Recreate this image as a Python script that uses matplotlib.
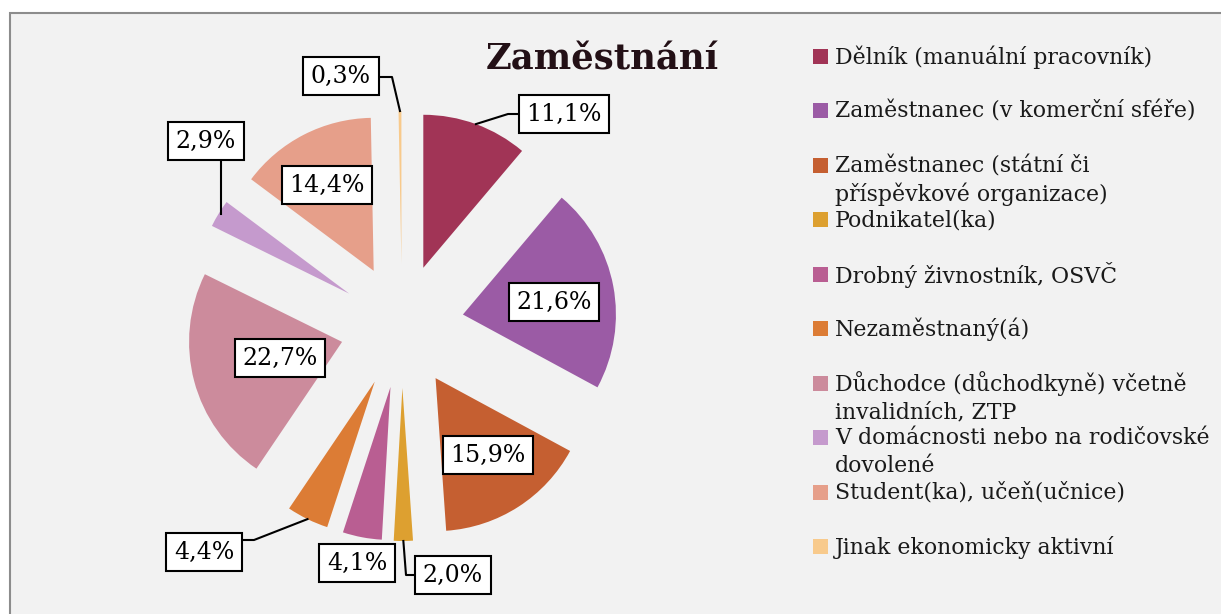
import matplotlib.pyplot as plt
import numpy as np
from matplotlib.patches import Rectangle

categories = ['Dělník (manuální pracovník)',
              'Zaměstnanec (v komerční sféře)',
              'Zaměstnanec (státní či\npříspěvkové organizace)',
              'Podnikatel(ka)',
              'Drobný živnostník, OSVČ',
              'Nezaměstnaný(á)',
              'Důchodce (důchodkyně) včetně\ninvalidních, ZTP',
              'V domácnosti nebo na rodičovské\ndovolené',
              'Student(ka), učeň(učnice)',
              'Jinak ekonomicky aktivní']
values = [11.1, 21.6, 15.9, 2.0, 4.1, 4.4, 22.7, 2.9, 14.4, 0.3]
labels = ['11,1%', '21,6%', '15,9%', '2,0%', '4,1%', '4,4%', '22,7%', '2,9%', '14,4%', '0,3%']
colors = ['#A13456', '#9B5BA5', '#C55F31', '#DDA030', '#B95E92',
          '#DC7C35', '#CC8B9C', '#C59ACD', '#E69F8A', '#F8CA8C']

W, H = 1221, 614
fig = plt.figure(figsize=(W / 100, H / 100), dpi=100)
ax = fig.add_axes([0, 0, 1, 1])
ax.set_xlim(0, W)
ax.set_ylim(0, H)
ax.axis('off')

# background + frame
ax.add_patch(Rectangle((10, -5), W, H - 13 + 5, fc='#F2F2F2', ec='#8C8C8C', lw=1.5, zorder=0))

serif = 'DejaVu Serif'

def Y(y):
    return H - y

# explode is in data units here (1 unit = 1 px)
wedges, _ = ax.pie(values, colors=colors, startangle=90, counterclock=False,
                   radius=153, center=(402, Y(326)), explode=[62] * len(values),
                   wedgeprops=dict(linewidth=0), frame=False)
ax.set_xlim(0, W)
ax.set_ylim(0, H)
ax.set_aspect('equal')

# label boxes: center (px, y down), elbow, attach
box_pos = {
    0: ((564, 114), (508, 114), (519, 114)),
    1: ((554, 302), None, None),
    2: ((488, 455), None, None),
    3: ((453, 575), (406, 575), (416, 575)),
    4: ((357, 563), None, None),
    5: ((204, 552), (254, 540), (242, 540)),
    6: ((280, 358), None, None),
    7: ((206, 141), None, (221, 160)),
    8: ((327, 185), None, None),
    9: ((341, 76), (392, 77), (378, 77)),
}

for i, w in enumerate(wedges):
    (cx, cy), elbow, attach = box_pos[i]
    ax.text(cx, Y(cy), labels[i], ha='center', va='center', fontsize=17, family=serif,
            bbox=dict(boxstyle='square,pad=0.33', fc='white', ec='black', lw=1.5), zorder=5)
    if attach is not None:
        mid = np.deg2rad((w.theta1 + w.theta2) / 2)
        px = w.center[0] + w.r * np.cos(mid)
        py = w.center[1] + w.r * np.sin(mid)
        xs, ys = [px], [py]
        if elbow is not None:
            xs.append(elbow[0]); ys.append(Y(elbow[1]))
        else:
            xs.append(attach[0]); ys.append(py)
            xs[0] = attach[0]
        xs.append(attach[0]); ys.append(Y(attach[1]))
        ax.plot(xs, ys, color='black', lw=1.5, zorder=4)

ax.text(602, Y(60), 'Zaměstnání', ha='center', va='center', fontsize=25.5,
        fontweight='bold', family=serif, color='#231016')

# legend
for i, cat in enumerate(categories):
    yy = 56 + 54.5 * i
    ax.add_patch(Rectangle((813, Y(yy) - 7.5), 15, 15, fc=colors[i], ec='none'))
    for k, ln in enumerate(cat.split('\n')):
        ax.text(835, Y(yy + 1 + 28 * k), ln, ha='left', va='center',
                fontsize=15.8, family=serif, color='#1a1a1a')

fig.savefig('out.png', dpi=100)
